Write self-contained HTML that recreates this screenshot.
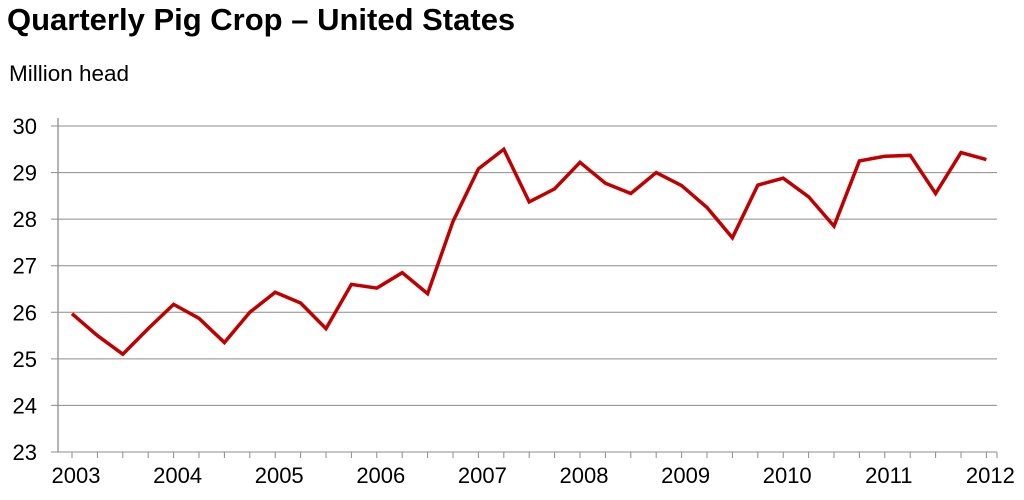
<!DOCTYPE html>
<html><head><meta charset="utf-8"><style>
body{margin:0;background:#fff;}
svg{display:block;font-family:"Liberation Sans",Arial,sans-serif;}
</style></head><body>
<svg id="chart" width="1024" height="500">
<text x="7" y="30" font-size="31" font-weight="bold" fill="#000">Quarterly Pig Crop – United States</text>
<text x="9" y="81" font-size="22.5" fill="#000">Million head</text>
<g id="grid"></g><g id="axes"></g><g id="series"></g>
</svg>
<script>
const yTicks=[23,24,25,26,27,28,29,30];
const yearLabels=["2003","2004","2005","2006","2007","2008","2009","2010","2011","2012"];
const values=[25.97,25.5,25.1,25.65,26.17,25.87,25.35,26.0,26.43,26.2,25.65,26.6,26.52,26.85,26.4,27.95,29.08,29.5,28.37,28.65,29.22,28.77,28.55,29.0,28.72,28.25,27.6,28.73,28.88,28.48,27.85,29.25,29.35,29.37,28.55,29.43,29.28];
const NS="http://www.w3.org/2000/svg";
const L=58,R=997,T=126,B=452,x0=72,dx=25.4;
const y=v=>B-(v-23)/(30-23)*(B-T);
const x=i=>x0+i*dx;
function mk(t,a,p){const e=document.createElementNS(NS,t);for(const k in a)e.setAttribute(k,a[k]);p.appendChild(e);return e;}
const g=document.getElementById('grid'),ax=document.getElementById('axes'),s=document.getElementById('series');
yTicks.forEach(v=>{
 const ln=mk('line',{x1:51,x2:R,y1:y(v),y2:y(v),stroke:'#8c8c8c','stroke-width':1},g);
 
 
 const t=mk('text',{x:37,y:y(v)+8,'font-size':22,'text-anchor':'end',fill:'#000'},ax);
 t.textContent=v;
 
 
});
const yl=mk('line',{x1:L,x2:L,y1:T-8,y2:B,stroke:'#8c8c8c','stroke-width':1.3},ax);


values.forEach((v,i)=>{
 const tk=mk('line',{x1:x(i),x2:x(i),y1:B,y2:B+6,stroke:'#8c8c8c','stroke-width':1},ax);
 
 
});
const et=mk('line',{x1:R,x2:R,y1:B,y2:B+6,stroke:'#8c8c8c','stroke-width':1},ax);


yearLabels.forEach((lab,j)=>{
 const t=mk('text',{x:x(j*4)+4,y:B+31,'font-size':22,'text-anchor':'middle',fill:'#000'},ax);
 t.textContent=lab;
 
 
});
const p=mk('polyline',{points:values.map((v,i)=>x(i)+','+y(v)).join(' '),fill:'none',stroke:'#c00000','stroke-width':3.5,'stroke-linejoin':'miter'},s);


</script>
</body></html>
